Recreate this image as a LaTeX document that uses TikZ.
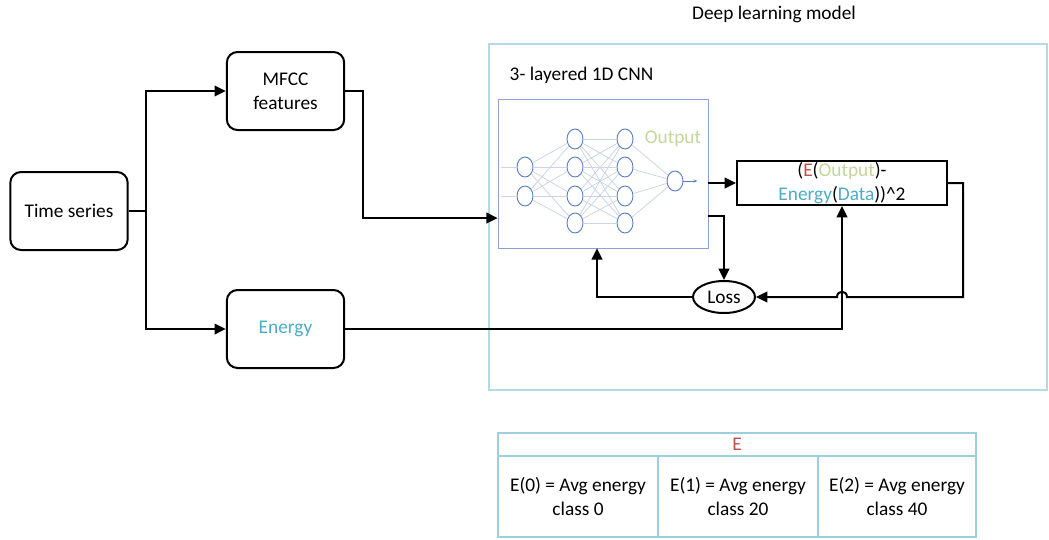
\documentclass[tikz,border=0pt]{standalone}
\usepackage{fontspec}
\setmainfont{Carlito}
\usepackage{tikz}
\usetikzlibrary{arrows.meta, positioning, shapes.geometric, calc}
\definecolor{frameblue}{HTML}{B4DAE8}
\definecolor{tableblue}{HTML}{9CCFE0}
\definecolor{cnnframe}{HTML}{8EA2D0}
\definecolor{neuronblue}{HTML}{5B7FC7}
\definecolor{synapsegray}{HTML}{CBD5E4}
\definecolor{ered}{HTML}{C0504D}
\definecolor{outgreen}{HTML}{C3D69B}
\definecolor{energyblue}{HTML}{4BACC6}

\begin{document}
\begin{tikzpicture}[x=0.75pt, y=-0.75pt,
    font=\fontsize{14.5}{18}\selectfont,
    block/.style={draw, line width=1.5pt, rounded corners=8pt, align=center,
        minimum width=88pt, minimum height=58.5pt},
    line/.style={line width=1.5pt, -{Triangle[length=8.5pt, width=8pt]}},
    neuron/.style={ellipse, draw=neuronblue, line width=0.7pt, minimum width=12pt, minimum height=15pt, inner sep=0pt},
    synapse/.style={synapsegray, line width=0.6pt},
    cell/.style={draw=tableblue, line width=1.8pt, align=center, minimum height=60.75pt}]
    \useasboundingbox (0,0) rectangle (1049,539);

    % inputs
    \node[block] (ts) at (69,211) {Time series};
    \node[block] (mfcc) at (285.5,91) {MFCC\\features};
    \node[block, text=energyblue] (energy) at (285.5,329) {Energy};

    % model frame
    \node[draw=frameblue, line width=1.5pt, minimum width=418.5pt, minimum height=259.5pt] (dlm) at (768,217) {};
    \node (dlmtitle) at (774,14) {Deep learning model};
    \node[anchor=west] (cnntitle) at (505,75) {3- layered 1D CNN};
    \node[draw=cnnframe, line width=0.5pt, minimum width=157.5pt, minimum height=111.75pt] (cnn) at (603,173.5) {};

    % small network inside the cnn box
    \foreach \i/\y in {1/167, 2/196}
        \node[neuron] (a\i) at (525,\y) {};
    \foreach \i/\y in {1/139, 2/167, 3/196, 4/223} {
        \node[neuron] (b\i) at (575,\y) {};
        \node[neuron] (c\i) at (625,\y) {};
    }
    \node[neuron] (d1) at (675,181) {};
    \foreach \i in {1,2}
        \foreach \j in {1,...,4}
            \draw[synapse] (a\i) -- (b\j);
    \foreach \i in {1,...,4}
        \foreach \j in {1,...,4}
            \draw[synapse] (b\i) -- (c\j);
    \foreach \i in {1,...,4}
        \draw[synapse] (c\i) -- (d1);
    \foreach \i in {1,2}
        \draw[synapse] (a\i.west) -- ++(-16,0);
    \draw[neuronblue, line width=0.6pt, -{Stealth[length=3pt]}] (d1.east) -- ++(14,0);
    \node[text=outgreen] (outlbl) at (673,139) {Output};

    % error term and loss
    \node[draw, line width=1.5pt, align=center, minimum width=157.5pt, minimum height=33pt, inner sep=1pt] (err) at (842,183)
        {(\textcolor{ered}{E}(\textcolor{outgreen}{Output})-\\\textcolor{energyblue}{Energy}(\textcolor{energyblue}{Data}))\^{}2};
    \node[ellipse, draw, line width=1.5pt, minimum width=46.5pt, minimum height=24pt, inner sep=0pt] (loss) at (724,297) {Loss};

    % connectors
    \coordinate (split) at ($(ts.east)+(17,0)$);
    \draw[line width=1.5pt] (ts.east) -- (split);
    \draw[line] (split) |- (mfcc.west);
    \draw[line] (split) |- (energy.west);
    \draw[line] (mfcc.east) -- ++(18,0) |- ([yshift=-33.4pt]cnn.west);
    \draw[line] (err.west -| cnn.east) -- (err.west);
    \draw[line] ([yshift=-32pt]cnn.east) -| (loss.north);
    \draw[line] (loss.west) -| ([xshift=-4.5pt]cnn.south);
    \draw[line] (energy.east) -| (err.south);
    \draw[line] (err.east) -- ++(15,0) |- ($(err.south |- loss.east)+(5,0)$)
        .. controls ++(0,-7) and ($(err.south |- loss.east)+(-5,-7)$) .. ($(err.south |- loss.east)+(-5,0)$)
        -- (loss.east);

    % class energy table
    \node[cell, minimum width=358.5pt, minimum height=17.25pt, text=ered, inner sep=1pt] (ehead) at (737,444.5) {E};
    \node[cell, minimum width=120pt] (e0) at (578,496.5) {E(0) = Avg energy\\class 0};
    \node[cell, minimum width=120pt] (e1) at (738,496.5) {E(1) = Avg energy\\class 20};
    \node[cell, minimum width=118.5pt] (e2) at (897,496.5) {E(2) = Avg energy\\class 40};
\end{tikzpicture}
\end{document}
